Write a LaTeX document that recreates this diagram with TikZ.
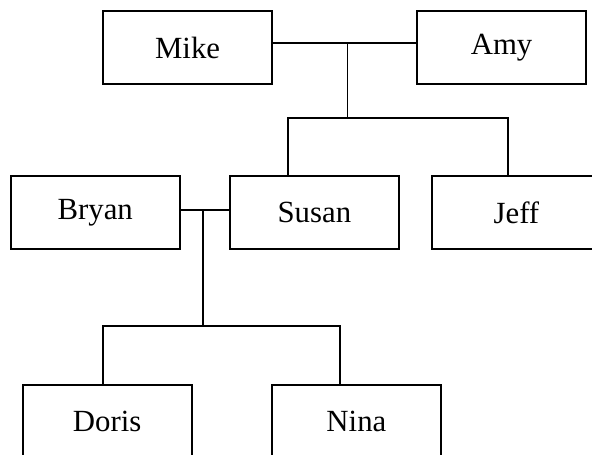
\documentclass[tikz,border=0pt]{standalone}
\usepackage{fontspec}
\setmainfont{Liberation Serif}
\usepackage{tikz}
\usetikzlibrary{calc}

\begin{document}
\begin{tikzpicture}[
    person/.style={draw, line width=1.3pt, minimum width=4.225cm, minimum height=1.825cm,
      inner sep=0pt, font=\fontsize{21.9}{26}\selectfont},
    link/.style={line width=1.2pt}]
    \useasboundingbox (0,0) rectangle (14.8,11.375);
    \clip (0,0) rectangle (14.8,11.375);

    % parents
    \node[person] (mike) at (4.69,10.18) {Mike};
    \node[person] (amy) at (12.54,10.18) {Amy};
    % children
    \node[person] (bryan) at (2.38,6.06) {Bryan};
    \node[person] (susan) at (7.86,6.06) {Susan};
    \node[person] (jeff) at (12.91,6.06) {Jeff};
    % grandchildren
    \node[person] (doris) at (2.68,0.84) {Doris};
    \node[person] (nina) at (8.91,0.84) {Nina};

    \coordinate (m1) at ($(mike.east)!0.52!(amy.west)+(0,0.12)$);
    \coordinate (bar1) at (m1 |- 0,8.425);
    \coordinate (m2) at ($(bryan.east)!0.46!(susan.west)+(0,0.06)$);
    \coordinate (bar2) at (m2 |- 0,3.225);

    \draw[link] ($(mike.east)+(0,0.12)$) -- ($(amy.west)+(0,0.12)$);
    \draw[link] (m1) -- (bar1);
    \draw[link] ($(susan.north)+(-0.66,0)$) |- (bar1) -| ($(jeff.north)+(-0.21,0)$);

    \draw[link] ($(bryan.east)+(0,0.06)$) -- ($(susan.west)+(0,0.06)$);
    \draw[link] (m2) -- (bar2);
    \draw[link] ($(doris.north)+(-0.1,0)$) |- (bar2) -| ($(nina.north)+(-0.41,0)$);
\end{tikzpicture}
\end{document}
